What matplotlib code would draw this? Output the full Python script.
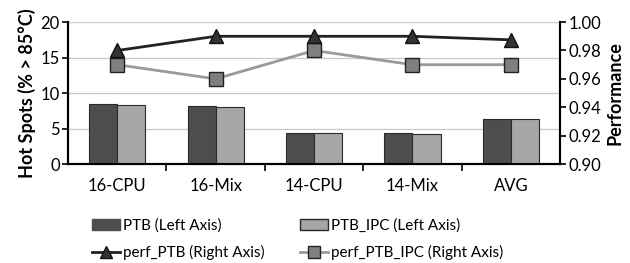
import matplotlib
matplotlib.use("Agg")
import matplotlib.pyplot as plt
import numpy as np
from matplotlib.lines import Line2D
from matplotlib.patches import Patch

plt.rcParams['font.family'] = ['Lato', 'DejaVu Sans']

categories = ["16-CPU", "16-Mix", "14-CPU", "14-Mix", "AVG"]
ptb = [8.4, 8.2, 4.4, 4.4, 6.4]
ptb_ipc = [8.3, 8.0, 4.4, 4.3, 6.3]
perf_ptb = [0.98, 0.99, 0.99, 0.99, 0.9875]
perf_ptb_ipc = [0.97, 0.96, 0.98, 0.97, 0.97]

fig = plt.figure(figsize=(6.3, 2.63), dpi=100)
ax = fig.add_axes([0.108, 0.376, 0.781, 0.54])
ax2 = ax.twinx()

x = np.arange(len(categories))
w = 0.285
ax.bar(x - w/2, ptb, w, color='#4d4d4d', edgecolor='#2a2a2a', linewidth=0.8, zorder=3)
ax.bar(x + w/2, ptb_ipc, w, color='#a6a6a6', edgecolor='#2a2a2a', linewidth=0.8, zorder=3)
ax.set_ylim(0, 20)
ax.set_yticks([0, 5, 10, 15, 20])
ax.set_xlim(-0.5, len(categories) - 0.5)
ax.set_xticks(x)
ax.set_xticklabels(categories)
ax.set_xticks(np.arange(0.5, len(categories) - 0.5, 1.0), minor=True)
ax.tick_params(axis='x', which='major', length=0, pad=10, labelsize=12)
ax.tick_params(axis='x', which='minor', length=5, width=1.2, direction='out')
ax.tick_params(axis='y', length=4, width=1.2, labelsize=12, pad=2)
ax.grid(axis='y', color='#c8c8c8', linewidth=0.9, zorder=0)
ax.set_axisbelow(True)
ax.set_ylabel("Hot Spots (% > 85°C)", fontsize=13, fontweight='bold', labelpad=3)
for s in ['top']:
    ax.spines[s].set_visible(False)
    ax2.spines[s].set_visible(False)
for s in ['left', 'bottom', 'right']:
    ax.spines[s].set_linewidth(1.5)
    ax2.spines[s].set_linewidth(1.5)

ax2.plot(x, perf_ptb, color='#222222', linewidth=2, marker='^', markersize=10,
         markerfacecolor='#333333', markeredgecolor='#111111', zorder=5)
ax2.plot(x, perf_ptb_ipc, color='#9a9a9a', linewidth=2, marker='s', markersize=10,
         markerfacecolor='#7f7f7f', markeredgecolor='#222222', zorder=4)
ax2.set_ylim(0.90, 1.00)
ax2.set_yticks([0.90, 0.92, 0.94, 0.96, 0.98, 1.00])
ax2.set_yticklabels([f"{v:.2f}" for v in [0.90, 0.92, 0.94, 0.96, 0.98, 1.00]])
ax2.tick_params(axis='y', length=4, width=1.2, labelsize=12, pad=2)
ax2.set_ylabel("Performance", fontsize=13, fontweight='bold', labelpad=4)

handles = [
    Patch(facecolor='#4d4d4d', edgecolor='#4d4d4d'),
    Patch(facecolor='#a6a6a6', edgecolor='#2a2a2a'),
    Line2D([], [], color='#222222', linewidth=2, marker='^', markersize=9,
           markerfacecolor='#333333', markeredgecolor='#111111'),
    Line2D([], [], color='#9a9a9a', linewidth=2, marker='s', markersize=9,
           markerfacecolor='#7f7f7f', markeredgecolor='#222222'),
]
labels = ["PTB (Left Axis)", "PTB_IPC (Left Axis)", "perf_PTB (Right Axis)", "perf_PTB_IPC (Right Axis)"]
order = [0, 2, 1, 3]
fig.legend([handles[i] for i in order], [labels[i] for i in order], ncol=2,
           loc='center left', bbox_to_anchor=(92/630, 1 - 239.5/263), frameon=False,
           fontsize=11, columnspacing=2.3, handlelength=1.85, handletextpad=0.2,
           labelspacing=0.8, borderpad=0, borderaxespad=0)

fig.savefig("out.png", dpi=100)
